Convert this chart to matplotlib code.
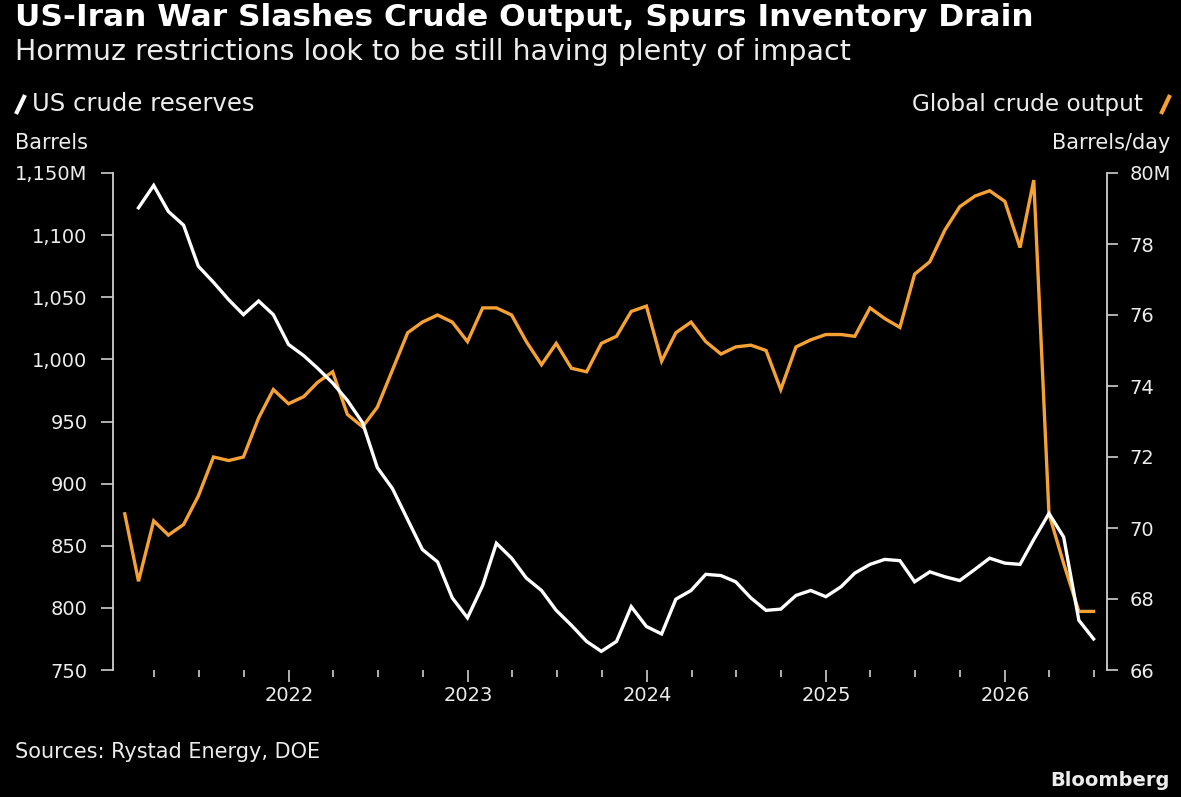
import matplotlib
matplotlib.use("Agg")
import matplotlib.pyplot as plt
import matplotlib.dates as mdates
from matplotlib.lines import Line2D
from matplotlib.ticker import FuncFormatter, FixedLocator
import pandas as pd

# Monthly data, month-end dates
output_months = pd.date_range("2021-02-01", periods=66, freq="MS") - pd.Timedelta(days=1)
reserve_months = output_months[1:]

# Global crude output, million barrels/day (right axis)
global_output = [
    70.4, 68.5, 70.2, 69.8, 70.1, 70.9, 72.0, 71.9, 72.0, 73.1, 73.9, 73.5,
    73.7, 74.1, 74.4, 73.2, 72.85, 73.4, 74.45, 75.5, 75.8, 76.0, 75.8, 75.25,
    76.2, 76.2, 76.0, 75.25, 74.6, 75.2, 74.5, 74.4, 75.2, 75.4, 76.1, 76.25,
    74.7, 75.5, 75.8, 75.25, 74.9, 75.1, 75.15, 75.0, 73.9, 75.1, 75.3, 75.45,
    75.45, 75.4, 76.2, 75.9, 75.65, 77.15, 77.5, 78.4, 79.05, 79.35, 79.5, 79.2,
    77.9, 79.8, 70.4, 69.0, 67.65, 67.65,
]

# US crude reserves, million barrels (left axis)
us_reserves = [
    1122, 1140, 1119, 1108, 1075, 1062, 1048, 1036, 1047, 1036, 1012, 1003,
    993, 981, 967, 949, 913, 896, 871, 847, 837, 808, 792, 818,
    852, 840, 824, 814, 798, 786, 773, 765, 773, 801, 785, 779,
    807, 814, 827, 826, 821, 808, 798, 799, 810, 814, 809, 817,
    828, 835, 839, 838, 821, 829, 825, 822, 831, 840, 836, 835,
    855, 876, 857, 790, 775,
]

W, H = 1181, 797
BG = "#000000"
TXT = "#ececec"
AXC = "#cfcfcf"
ORANGE = "#f5a133"


def fx(x):
    return x / W


def fy(y):
    return 1 - y / H


fig = plt.figure(figsize=(W / 100, H / 100), dpi=100, facecolor=BG)
ax = fig.add_axes([fx(113), fy(670), fx(1107.3) - fx(113), fy(173) - fy(670)])
ax2 = ax.twinx()

ax2.plot(output_months, global_output, color=ORANGE, lw=2.4, solid_joinstyle="miter")
ax.plot(reserve_months, us_reserves, color="white", lw=2.4, solid_joinstyle="miter")

# reserves line sits above the output line
ax.set_zorder(ax2.get_zorder() + 1)
ax.patch.set_visible(False)
ax2.patch.set_facecolor(BG)

ax.set_xlim(pd.Timestamp("2021-01-07"), pd.Timestamp("2026-07-28"))
ax.set_ylim(750, 1150)
ax2.set_ylim(66, 80)

ax.yaxis.set_major_locator(FixedLocator(range(750, 1151, 50)))
ax2.yaxis.set_major_locator(FixedLocator(range(66, 81, 2)))
ax.yaxis.set_major_formatter(FuncFormatter(lambda v, p: f"{v:,.0f}M" if v == 1150 else f"{v:,.0f}"))
ax2.yaxis.set_major_formatter(FuncFormatter(lambda v, p: f"{v:.0f}M" if v == 80 else f"{v:.0f}"))

ax.xaxis.set_major_locator(mdates.YearLocator())
ax.xaxis.set_major_formatter(mdates.DateFormatter("%Y"))
ax.xaxis.set_minor_locator(mdates.MonthLocator(bymonth=[4, 7, 10]))

for a in (ax, ax2):
    for s in ("top", "bottom"):
        a.spines[s].set_visible(False)
    a.spines["left"].set_color(AXC)
    a.spines["right"].set_color(AXC)
    a.spines["left"].set_linewidth(1.3)
    a.spines["right"].set_linewidth(1.3)
ax.spines["right"].set_visible(False)
ax2.spines["left"].set_visible(False)

ax.tick_params(axis="y", colors=AXC, labelcolor=TXT, labelsize=14, length=8.3, width=1.2, pad=10)
ax2.tick_params(axis="y", colors=AXC, labelcolor=TXT, labelsize=14, length=8, width=1.2, pad=8)
ax.tick_params(axis="x", which="major", colors=AXC, labelcolor=TXT, labelsize=14, length=8.5, width=1.2, pad=3)
ax.tick_params(axis="x", which="minor", colors=AXC, length=5, width=1.2)

# titles and labels
fig.text(fx(15), fy(18), "US-Iran War Slashes Crude Output, Spurs Inventory Drain",
         color="white", fontsize=22.5, fontweight="bold", va="center", ha="left")
fig.text(fx(15), fy(52), "Hormuz restrictions look to be still having plenty of impact",
         color=TXT, fontsize=20.5, va="center", ha="left")

fig.text(fx(32), fy(104), "US crude reserves", color=TXT, fontsize=17.5, va="center", ha="left")
fig.text(fx(1143), fy(104), "Global crude output", color=TXT, fontsize=16.7, va="center", ha="right")
fig.add_artist(Line2D([fx(16), fx(25)], [fy(114), fy(95)], color="white", lw=3, solid_capstyle="butt"))
fig.add_artist(Line2D([fx(1161), fx(1170)], [fy(114), fy(95)], color=ORANGE, lw=3, solid_capstyle="butt"))

fig.text(fx(15), fy(143), "Barrels", color=TXT, fontsize=15, va="center", ha="left")
fig.text(fx(1170), fy(143), "Barrels/day", color=TXT, fontsize=15, va="center", ha="right")

fig.text(fx(15), fy(752), "Sources: Rystad Energy, DOE", color=TXT, fontsize=15, va="center", ha="left")
fig.text(fx(1170), fy(781), "Bloomberg", color=TXT, fontsize=14, fontweight="bold", va="center", ha="right")

fig.savefig("out.png", dpi=100, facecolor=BG)
